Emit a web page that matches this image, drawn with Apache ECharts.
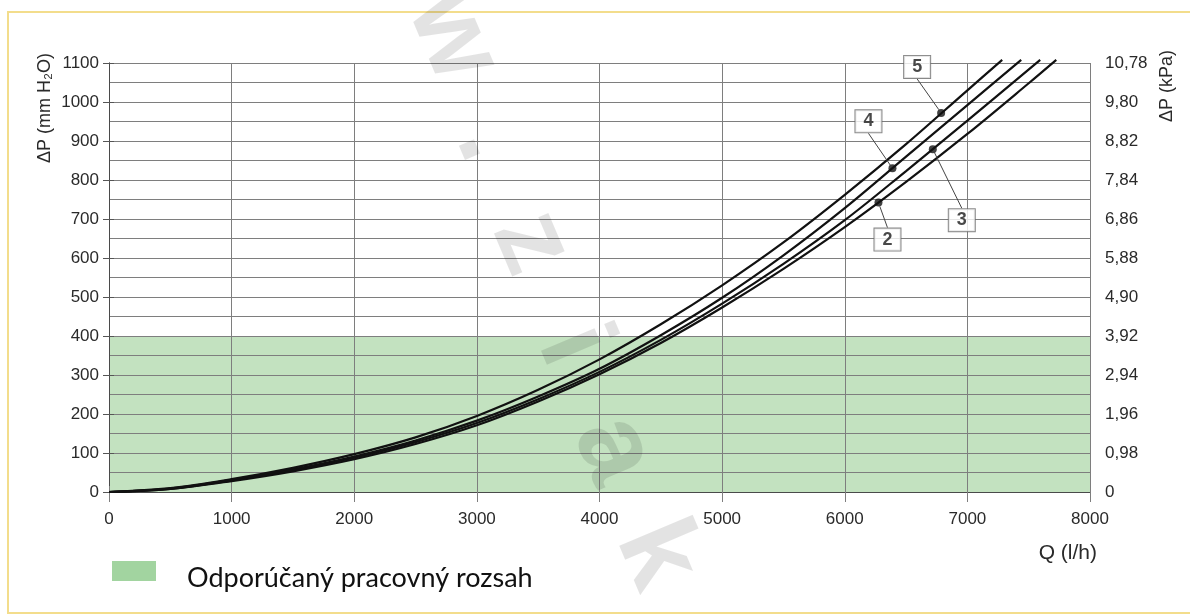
<!DOCTYPE html>
<html>
<head>
<meta charset="utf-8">
<script src="https://cdn.jsdelivr.net/npm/echarts@6/dist/echarts.min.js"></script>
<style>
html,body{margin:0;padding:0;background:#fff;}
#c{width:1190px;height:616px;}
</style>
</head>
<body>
<div id="c"></div>
<script>
// ---------- data ----------
const leftTickLabels = ['0','100','200','300','400','500','600','700','800','900','1000','1100'];
const rightTickLabels = ['0','0,98','1,96','2,94','3,92','4,90','5,88','6,86','7,84','8,82','9,80','10,78'];

const curve2Q  = [0,500,1000,1500,2000,2500,3000,3500,4000,4500,5000,5500,6000,6500,7000,7500,7725];
const curve2DP = [0,8,28,53,84,123,171,232,302,382,473,572,679,795,918,1048,1108];
const curve3Q  = [0,500,1000,1500,2000,2500,3000,3500,4000,4500,5000,5500,6000,6500,7000,7594];
const curve3DP = [0,8,30,56,88,128,177,238,308,390,483,585,697,823,952,1108];
const curve4Q  = [0,500,1000,1500,2000,2500,3000,3500,4000,4500,5000,5500,6000,6500,7000,7439];
const curve4DP = [0,9,31,58,91,132,183,245,316,402,498,607,728,860,992,1108];
const curve5Q  = [0,500,1000,1500,2000,2500,3000,3500,4000,4500,5000,5500,6000,6500,7000,7284];
const curve5DP = [0,10,33,62,97,140,195,262,340,430,530,640,762,892,1030,1108];

const curveNames = ['2','3','4','5'];
const curveQ  = [curve2Q, curve3Q, curve4Q, curve5Q];
const curveDP = [curve2DP, curve3DP, curve4DP, curve5DP];

const rangeName = 'Odporúčaný pracovný rozsah';
const rangeQ  = [0, 8000];
const rangeDP = [400, 400];

const markerNames = ['5','4','3','2'];
const markerQ  = [6786, 6389, 6718, 6275];
const markerDP = [972, 830, 879, 742];

// ---------- styles / layout ----------
const markerLabelShift = [[-24,-46],[-24,-47],[29,71],[9,37]];
const TXT = '#2a2a2a';
const GRIDC = '#7e7e7e';
const AXISC = '#4a4a4a';
const FONT = "'Liberation Sans', Arial, sans-serif";

const watermarkChars = ['w','.','z','i','a','k'];
const watermarkPos = [[452,36],[490,141],[531,243],[572,346],[613,450],[656,555]];

const chart = echarts.init(document.getElementById('c'), null, {renderer:'canvas'});

const series = [];
series.push({
  type:'line', name: rangeName,
  data: rangeQ.map((q,i)=>[q, rangeDP[i]]),
  symbol:'none', silent:true,
  lineStyle:{width:0},
  areaStyle:{color:'#c3e2c0', opacity:1},
  z:-1
});
curveNames.forEach((n,k)=>{
  series.push({
    type:'line', name:'Krivka ' + n,
    data: curveQ[k].map((q,i)=>[q, curveDP[k][i]]),
    smooth:0.35, symbol:'none', silent:true, clip:false,
    lineStyle:{color:'#111', width:2.2},
    z:3
  });
});
series.push({
  type:'scatter', name:'markers',
  data: markerNames.map((n,i)=>({name:n, value:[markerQ[i], markerDP[i]]})),
  symbolSize:8,
  itemStyle:{color:'#111'},
  label:{
    show:true, position:'inside', formatter:'{b}',
    fontFamily:FONT, fontSize:18, fontWeight:'bold', color:'#1a1a1a',
    backgroundColor:'#fff', borderColor:'#6a6a6a', borderWidth:1,
    padding:[3,8,1,8]
  },
  labelLayout:(p)=>({dx:markerLabelShift[p.dataIndex][0], dy:markerLabelShift[p.dataIndex][1], hideOverlap:false}),
  labelLine:{show:true, lineStyle:{color:'#444', width:1}},
  z:5
});

const graphics = [
  {type:'rect', shape:{x:8,y:12,width:1190,height:601}, style:{fill:null, stroke:'#f3dd8c', lineWidth:2}, z:-10, silent:true},
  {type:'text', x:45, y:53, rotation:Math.PI/2,
   style:{text:'ΔP (mm H₂O)', font:"18px 'Liberation Sans', Arial, sans-serif", fill:TXT, textAlign:'right', textVerticalAlign:'middle'}},
  {type:'text', x:1167, y:50, rotation:Math.PI/2,
   style:{text:'ΔP (kPa)', font:"18px 'Liberation Sans', Arial, sans-serif", fill:TXT, textAlign:'right', textVerticalAlign:'middle'}},
  {type:'text', x:1097, y:553,
   style:{text:'Q (l/h)', font:"21px 'Liberation Sans', Arial, sans-serif", fill:TXT, textAlign:'right', textVerticalAlign:'middle'}},
  {type:'rect', shape:{x:112,y:561,width:44,height:20}, style:{fill:'#a2d4a0'}},
  {type:'text', x:187, y:578,
   style:{text:rangeName, font:"27px Lato, sans-serif", fill:'#111', textAlign:'left', textVerticalAlign:'middle'}}
];
watermarkChars.forEach((ch,i)=>{
  graphics.push({type:'text', x:watermarkPos[i][0], y:watermarkPos[i][1], rotation:-1.17, z:100, silent:true,
    style:{text:ch, font:"bold 110px 'Liberation Sans', Arial, sans-serif", fill:'rgba(0,0,0,0.11)', textAlign:'center', textVerticalAlign:'middle'}});
});

const option = {
  animation:false,
  backgroundColor:'#fff',
  textStyle:{fontFamily:FONT},
  grid:{left:109, top:63, width:981, height:429},
  xAxis:[
    {type:'value', min:0, max:8000, interval:1000, position:'bottom',
     axisLine:{show:true, onZero:false, lineStyle:{color:AXISC}},
     axisTick:{show:true, length:10, lineStyle:{color:GRIDC}},
     axisLabel:{fontSize:17, color:TXT, margin:19, fontFamily:FONT, formatter:(v)=>String(v)},
     splitLine:{show:true, lineStyle:{color:GRIDC, width:1}}},
    {type:'value', min:0, max:8000, interval:1000, position:'top',
     axisLine:{show:false}, axisTick:{show:true, length:6, lineStyle:{color:GRIDC}},
     axisLabel:{show:false}, splitLine:{show:false}}
  ],
  yAxis:[
    {type:'value', min:0, max:1100, interval:100, position:'left',
     axisLine:{show:true, lineStyle:{color:AXISC}},
     axisTick:{show:true, length:6, lineStyle:{color:'#555'}},
     axisLabel:{fontSize:17, color:TXT, margin:10, fontFamily:FONT, formatter:(v)=>leftTickLabels[Math.round(v/100)]},
     splitLine:{show:true, lineStyle:{color:GRIDC, width:1}},
     minorTick:{show:false, splitNumber:2},
     minorSplitLine:{show:true, lineStyle:{color:GRIDC, width:1}}},
    {type:'value', min:0, max:1100, interval:100, position:'right',
     axisLine:{show:true, lineStyle:{color:AXISC}},
     axisTick:{show:true, length:5, lineStyle:{color:'#555'}},
     axisLabel:{fontSize:17, color:TXT, margin:15, fontFamily:FONT, formatter:(v)=>rightTickLabels[Math.round(v/100)]},
     splitLine:{show:false}}
  ],
  graphic: graphics,
  series: series
};
chart.setOption(option);
</script>
</body>
</html>
